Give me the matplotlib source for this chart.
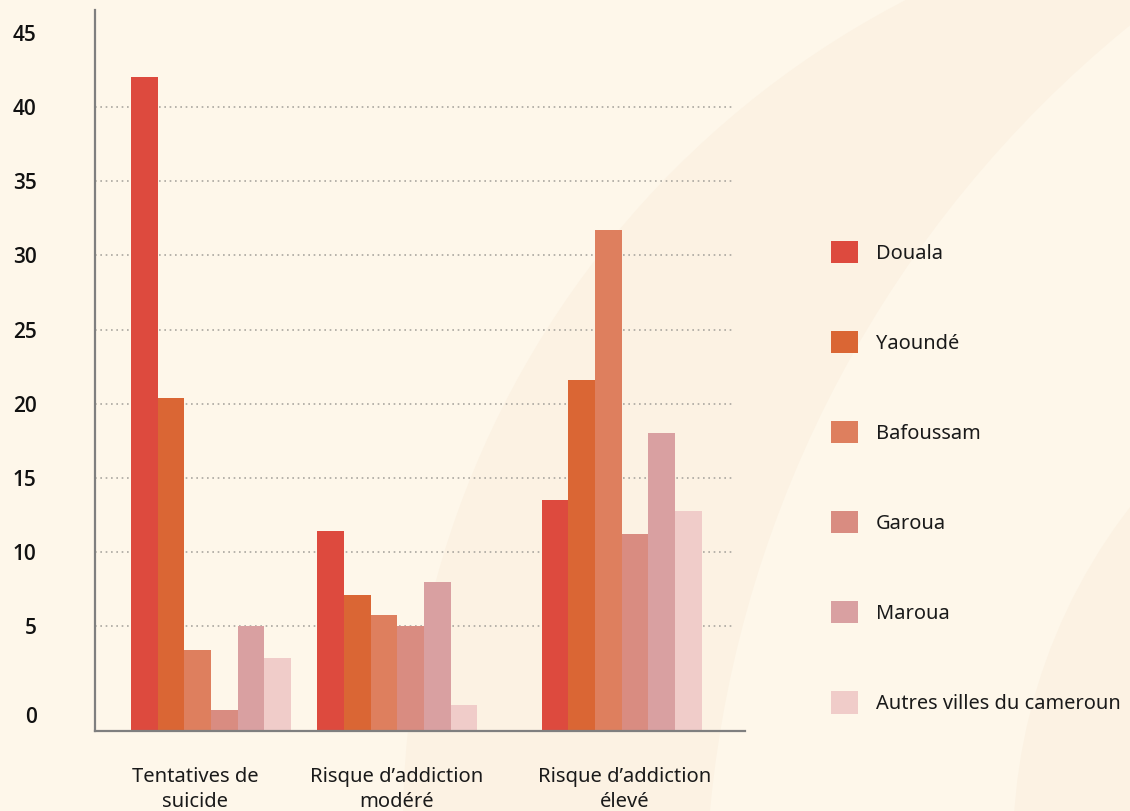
import numpy as np
import matplotlib
matplotlib.use("Agg")
import matplotlib.pyplot as plt
from matplotlib.patches import Patch, Circle

plt.rcParams['font.family'] = ['Noto Sans', 'DejaVu Sans']

# données
categories = ["Tentatives de\nsuicide", "Risque d\u2019addiction\nmodéré", "Risque d\u2019addiction\nélevé"]
villes = ["Douala", "Yaoundé", "Bafoussam", "Garoua", "Maroua", "Autres villes du cameroun"]
douala = [42.0, 11.4, 13.5]
yaounde = [20.4, 7.1, 21.6]
bafoussam = [3.7, 5.8, 31.7]
garoua = [0.3, 5.0, 11.2]
maroua = [5.0, 8.0, 18.0]
autres = [3.2, 0.6, 12.8]
y_ticks = [0, 5, 10, 15, 20, 25, 30, 35, 40, 45]
grid_values = [5, 10, 15, 20, 25, 30, 35, 40]

series = [douala, yaounde, bafoussam, garoua, maroua, autres]
colors = ["#DD4A3E", "#DA6634", "#DE7F5E", "#D98C81", "#D9A0A1", "#F0CCC9"]

# mise en page (unités = largeur d'une barre)
group_centers = [4.35, 11.34, 19.75]
label_centers = [3.75, 11.32, 19.87]
bar_w = 1.0

BG = "#FEF7EA"
BAND = "#FCF2E3"

# échelle : tassée sous 5, linéaire au-dessus
K = 1.2
def fwd(v):
    v = np.asarray(v, dtype=float)
    return np.where(v < 5, 5 - (5 - v) * K, v)

def inv(u):
    u = np.asarray(u, dtype=float)
    return np.where(u < 5, 5 - (5 - u) / K, u)

fig = plt.figure(figsize=(11.3, 8.11), dpi=100, facecolor=BG)

# décor de fond
bg = fig.add_axes([0, 0, 1, 1], zorder=-5)
bg.set_xlim(0, 1130)
bg.set_ylim(811, 0)
bg.axis('off')
bg.add_patch(Circle((1333, 826), 930, color=BAND, lw=0))
bg.add_patch(Circle((1855, 918), 1150, color=BG, lw=0))
bg.add_patch(Circle((1574, 850), 561, color=BAND, lw=0))

ax = fig.add_axes([95 / 1130, 80 / 811, 650 / 1130, 721 / 811])
ax.set_facecolor('none')
ax.set_yscale('function', functions=(fwd, inv))
y_min, y_max = -0.875, 46.54
ax.set_ylim(y_min, y_max)
ax.set_xlim(0, 650 / 26.67)

for g in grid_values:
    ax.axhline(g, xmin=0, xmax=0.985, color="#ABA7A0", lw=1.2,
               ls=(0, (1, 2.2)), zorder=1)

for i, (vals, c) in enumerate(zip(series, colors)):
    xs = [gc + (i - 2.5) * bar_w for gc in group_centers]
    heights = [v - y_min for v in vals]
    ax.bar(xs, heights, bottom=y_min, width=bar_w, color=c, zorder=2,
           linewidth=0)

for s in ['top', 'right']:
    ax.spines[s].set_visible(False)
for s in ['left', 'bottom']:
    ax.spines[s].set_color("#7F7F7F")
    ax.spines[s].set_linewidth(1.6)
    ax.spines[s].set_zorder(3)

ax.set_yticks(y_ticks)
ax.set_yticklabels([str(t) for t in y_ticks], fontsize=15,
                   fontweight='semibold', family=['Open Sans', 'DejaVu Sans'],
                   color="#111111")
ax.yaxis.set_minor_locator(plt.NullLocator())
ax.tick_params(axis='y', length=0, pad=42)
for lab in ax.get_yticklabels():
    lab.set_horizontalalignment('right')

ax.set_xticks(label_centers)
ax.set_xticklabels(categories, fontsize=14.5, color="#1A1A1A",
                   linespacing=1.35)
ax.tick_params(axis='x', length=0, pad=26)

handles = [Patch(facecolor=c, edgecolor='none') for c in colors]
fig.legend(handles, villes, loc='upper left',
           bbox_to_anchor=(831 / 1130, 1 - 241 / 811),
           frameon=False, borderpad=0, borderaxespad=0,
           handlelength=1.34, handleheight=1.34, handletextpad=0.9,
           labelspacing=3.36, fontsize=14.4, labelcolor="#1A1A1A")

fig.savefig("out.png", dpi=100, facecolor=BG)
